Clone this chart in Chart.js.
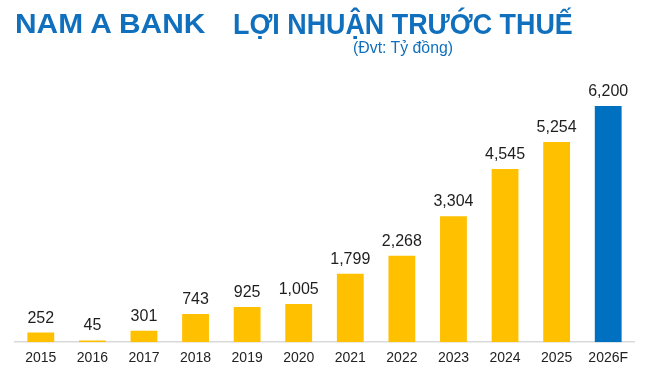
<!DOCTYPE html>
<html>
<head>
<meta charset="utf-8">
<script src="https://cdn.jsdelivr.net/npm/chart.js@4"></script>
<style>
  html, body { margin: 0; padding: 0; background: #fff; }
  #wrap { position: relative; width: 648px; height: 375px; overflow: hidden; }
  #profitChart { position: absolute; left: 0; top: 0; }
  .hd { position: absolute; font-family: "Liberation Sans", Arial, sans-serif; color: #1070bd;
        white-space: nowrap; transform-origin: 0 0; line-height: 1; }
  .logo { left: 15px; top: 10px; font-weight: 900; font-size: 28px; }
  .title { left: 233px; top: 10px; font-weight: bold; font-size: 29px; }
  .unit { left: 353px; top: 40px; font-size: 16px; }
</style>
</head>
<body>
<div id="wrap">
  <canvas id="profitChart" width="648" height="375"></canvas>
  <div class="hd logo" data-w="190">NAM A BANK</div>
  <div class="hd title" data-w="340">LỢI NHUẬN TRƯỚC THUẾ</div>
  <div class="hd unit" data-w="100">(Đvt: Tỷ đồng)</div>
</div>
<script>
const years = ["2015", "2016", "2017", "2018", "2019", "2020", "2021", "2022", "2023", "2024", "2025", "2026F"];
const profit = [252, 45, 301, 743, 925, 1005, 1799, 2268, 3304, 4545, 5254, 6200];

const barColors = profit.map((v, i) => i === profit.length - 1 ? "#0070c0" : "#ffc000");

// squeeze the heading texts to the widths seen in the picture
document.querySelectorAll(".hd").forEach(el => {
  const k = Number(el.dataset.w) / el.offsetWidth;
  el.style.transform = "scaleX(" + k + ")";
});

// value labels above each bar
const valueLabels = {
  id: "valueLabels",
  afterDatasetsDraw(chart) {
    const ctx = chart.ctx;
    const meta = chart.getDatasetMeta(0);
    ctx.save();
    ctx.font = "16px 'Liberation Sans', Arial, sans-serif";
    ctx.fillStyle = "#1e1e1e";
    ctx.textAlign = "center";
    ctx.textBaseline = "alphabetic";
    meta.data.forEach((bar, i) => {
      ctx.fillText(profit[i].toLocaleString("en-US"), bar.x, bar.y - 10);
    });
    ctx.restore();
  }
};

new Chart(document.getElementById("profitChart").getContext("2d"), {
  type: "bar",
  data: {
    labels: years,
    datasets: [{
      data: profit,
      backgroundColor: barColors,
      barPercentage: 0.52,
      categoryPercentage: 1
    }]
  },
  options: {
    responsive: false,
    animation: false,
    layout: { padding: { top: 106, left: 15, right: 14, bottom: 0 } },
    plugins: {
      legend: { display: false },
      tooltip: { enabled: false }
    },
    scales: {
      x: {
        grid: { display: false, drawTicks: false },
        border: { display: true, color: "#d9d9d9", width: 1.5 },
        ticks: { color: "#222", font: { family: "'Liberation Sans', Arial, sans-serif", size: 14 }, padding: 8 }
      },
      y: {
        display: false,
        min: 0,
        max: 6200
      }
    }
  },
  plugins: [valueLabels]
});
</script>
</body>
</html>
